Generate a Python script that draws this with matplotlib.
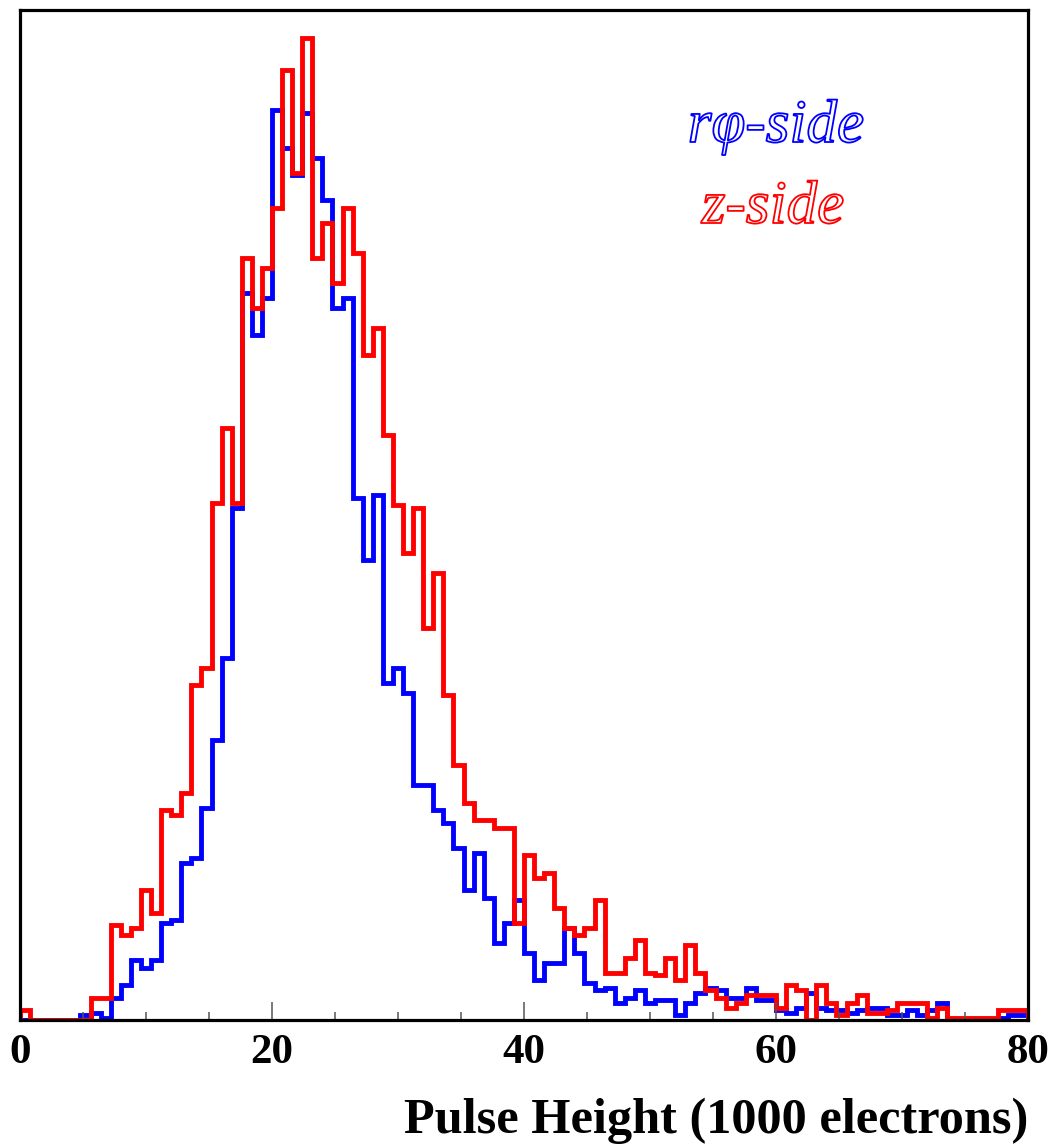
import matplotlib
matplotlib.use("Agg")
import matplotlib.pyplot as plt
import matplotlib.patheffects as pe
import numpy as np
from matplotlib.ticker import MultipleLocator

# Pulse-height spectra, 100 bins of 0.8k electrons over 0-80k electrons
z_side = [4, 0, 0, 0, 0, 0, 0, 9, 9, 38,
          34, 37, 52, 43, 84, 82, 91, 134, 141, 207,
          237, 207, 305, 285, 301, 325, 380, 339, 393, 305,
          319, 295, 325, 307, 266, 277, 234, 206, 187, 205,
          157, 179, 130, 102, 87, 80, 80, 77, 77, 39,
          66, 57, 59, 45, 37, 34, 37, 48, 19, 19,
          25, 32, 19, 18, 25, 16, 30, 19, 12, 9,
          5, 7, 10, 10, 10, 5, 14, 12, 0, 14,
          7, 2, 7, 10, 3, 3, 4, 7, 7, 7,
          1, 5, 1, 1, 1, 1, 1, 4, 4, 4]

rphi_side = [0, 0, 0, 0, 0, 0, 2, 3, 1, 9,
             14, 24, 21, 24, 39, 40, 63, 65, 85, 112,
             145, 205, 291, 274, 289, 364, 349, 338, 363, 345,
             328, 285, 289, 209, 184, 210, 135, 141, 131, 94,
             94, 84, 79, 69, 52, 67, 49, 31, 39, 48,
             27, 16, 23, 23, 37, 27, 15, 12, 13, 7,
             9, 12, 7, 8, 8, 2, 7, 11, 13, 12,
             9, 9, 13, 8, 8, 4, 3, 5, 11, 5,
             4, 4, 3, 4, 5, 5, 2, 2, 4, 2,
             4, 7, 0, 0, 0, 0, 0, 1, 2, 2]

x_min, x_max = 0, 80
tick_values = [0, 20, 40, 60, 80]
tick_labels = ["0", "20", "40", "60", "80"]
x_title = "Pulse Height (1000 electrons)"

serif = ["Liberation Serif", "DejaVu Serif"]

W, H = 1053, 1146
fig = plt.figure(figsize=(W / 100, H / 100), dpi=100)
ax = fig.add_axes([20 / W, 126 / H, 1008 / W, 1010 / H])

edges = np.linspace(x_min, x_max, len(z_side) + 1)
ax.stairs(rphi_side, edges, baseline=0, color="#0000ff", lw=3.5, joinstyle="miter")
ax.stairs(z_side, edges, baseline=0, color="#ff0000", lw=3.5, joinstyle="miter")

ax.set_xlim(x_min, x_max)
ax.set_ylim(0, 404)

for s in ax.spines.values():
    s.set_linewidth(2.3)
    s.set_color("black")

ax.set_yticks([])
ax.set_xticks(tick_values)
ax.set_xticklabels(tick_labels, fontfamily=serif, fontweight="bold", fontsize=31)
ax.xaxis.set_minor_locator(MultipleLocator(5))
ax.tick_params(axis="x", which="major", direction="in", length=13, width=1.1,
               color="#555555", pad=10)
ax.tick_params(axis="x", which="minor", direction="in", length=6, width=1.1,
               color="#555555")

fig.text(1028 / W, 13 / H, x_title, ha="right", va="baseline",
         fontfamily=serif, fontweight="bold", fontsize=36.3)

# outlined italic legend labels
fig.text(776 / W, (H - 142) / H, "rφ-side", ha="center", va="baseline",
         fontfamily=serif, fontstyle="italic", fontsize=44, color="white",
         path_effects=[pe.Stroke(linewidth=1.3, foreground="#0000ff")])
fig.text(773 / W, (H - 223) / H, "z-side", ha="center", va="baseline",
         fontfamily=serif, fontstyle="italic", fontsize=44, color="white",
         path_effects=[pe.Stroke(linewidth=1.3, foreground="#ff0000")])

fig.savefig("out.png", dpi=100)
